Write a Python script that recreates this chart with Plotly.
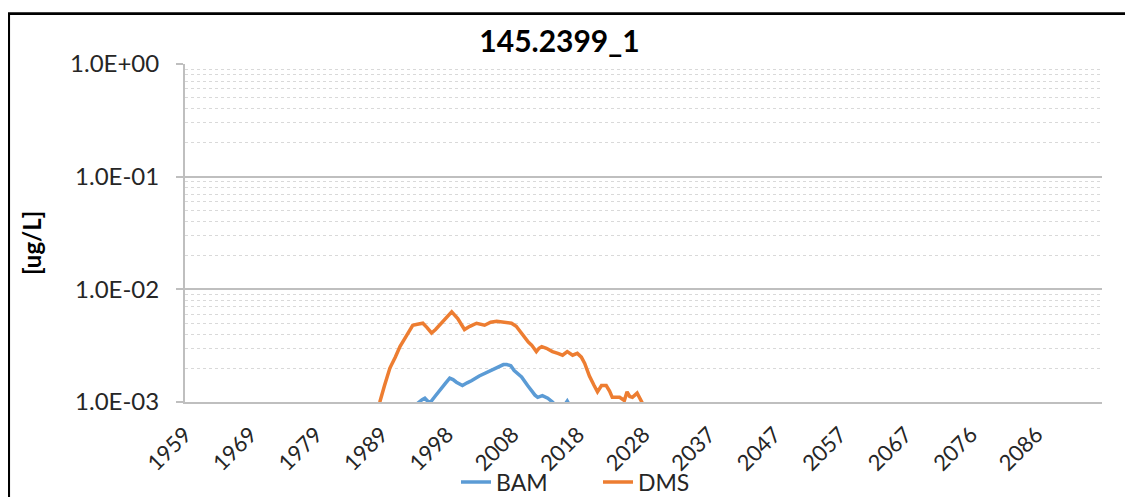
import plotly.graph_objects as go

# ---- data ----
dms_years = [1988.0, 1988.9, 1989.6, 1990.4, 1991.2, 1991.9, 1992.9, 1993.8, 1994.5, 1995.3,
             1995.9, 1996.6, 1997.2, 1997.8, 1998.7, 1999.6, 2000.5, 2001.0, 2001.5, 2002.3,
             2003.3, 2004.5, 2005.4, 2006.3, 2007.8, 2008.5, 2009.2, 2009.8, 2010.4, 2011.0,
             2011.5, 2012.2, 2012.6, 2013.0, 2013.7, 2014.6, 2015.4, 2016.1, 2016.8, 2017.6,
             2018.3, 2018.9, 2019.4, 2020.1, 2020.8, 2021.3, 2021.9, 2022.6, 2023.1, 2023.5,
             2024.6, 2025.3, 2025.7, 2026.1, 2026.5, 2027.2, 2027.9, 2028.6]
dms_values = [0.0007, 0.0010, 0.0014, 0.0020, 0.0025, 0.0031, 0.0039, 0.0048, 0.0049, 0.0050,
              0.0046, 0.0041, 0.0044, 0.0048, 0.0055, 0.0063, 0.0055, 0.0049, 0.0044, 0.0047,
              0.0050, 0.0048, 0.0051, 0.0052, 0.0051, 0.0050, 0.0047, 0.0042, 0.0038, 0.0034,
              0.0032, 0.0028, 0.0030, 0.0031, 0.0030, 0.0028, 0.0027, 0.0026, 0.0028, 0.0026,
              0.0027, 0.0025, 0.0022, 0.0017, 0.0014, 0.00123, 0.0014, 0.0014, 0.00125, 0.0011,
              0.0011, 0.00103, 0.00123, 0.00112, 0.0011, 0.0012, 0.0010, 0.0008]

bam_years = [1993.8, 1994.6, 1995.2, 1995.6, 1996.0, 1996.4, 1997.1, 1997.8, 1998.6, 1999.3,
             1999.8, 2000.3, 2001.2, 2001.9, 2002.6, 2003.7, 2004.4, 2005.2, 2006.0, 2006.7,
             2007.3, 2007.8, 2008.4, 2008.9, 2010.0, 2010.9, 2011.6, 2012.0, 2012.4, 2013.1,
             2013.9, 2014.6, 2015.3, 2016.2, 2016.8, 2017.3]
bam_values = [0.0008, 0.00098, 0.00105, 0.00108, 0.00102, 0.00099, 0.00112, 0.00128, 0.00145, 0.00163,
              0.00158, 0.0015, 0.0014, 0.00148, 0.00155, 0.0017, 0.00178, 0.0019, 0.0020, 0.0021,
              0.00215, 0.00215, 0.0021, 0.0019, 0.00167, 0.0014, 0.00123, 0.00115, 0.0011, 0.00114,
              0.00108, 0.0010, 0.0009, 0.0009, 0.00102, 0.0009]

x_tick_labels = ["1959", "1969", "1979", "1989", "1998", "2008", "2018", "2028",
                 "2037", "2047", "2057", "2067", "2076", "2086"]
y_tick_values = [1.0, 0.1, 0.01, 0.001]
y_tick_labels = ["1.0E+00", "1.0E-01", "1.0E-02", "1.0E-03"]

title_text = "145.2399_1"
y_title = "[ug/L]"

# category-label spacing of the source axis (years between labels)
x_start = 1959.9
x_step = 9.75
x_tickvals = [x_start + i * x_step for i in range(len(x_tick_labels))]
x_end = x_start + (len(x_tick_labels)) * x_step

minor_vals = [m * 10.0 ** e for e in range(-3, 0) for m in range(2, 10)]

FONT = "Lato"
TXT = "#262626"
GRID = "#BFBFBF"

# page has an 8px body margin; figure fills the rest of the 1133x497 window
W, H = 1125, 489
L, R, T, B = 177, 31, 56, 95
pw, ph = W - L - R, H - T - B

fig = go.Figure()
fig.add_trace(go.Scatter(x=bam_years, y=bam_values, mode="lines", name="BAM",
                         line=dict(color="#5B9BD5", width=3.5)))
fig.add_trace(go.Scatter(x=dms_years, y=dms_values, mode="lines", name="DMS",
                         line=dict(color="#ED7D31", width=3.5)))

fig.update_layout(
    width=W, height=H,
    margin=dict(l=L, r=R, t=T, b=B),
    paper_bgcolor="white", plot_bgcolor="white",
    font=dict(family=FONT, color=TXT, size=22),
    title=dict(text="<b>" + title_text + "</b>", x=551.5 / W, xref="container", xanchor="center",
               y=1 - 33 / H, yref="container", yanchor="middle",
               font=dict(family=FONT, size=30, color="#000000")),
    showlegend=True,
    legend=dict(orientation="h", xref="container", yref="container",
                x=448 / W, xanchor="left", y=1 - 474 / H, yanchor="middle",
                font=dict(family=FONT, size=23, color=TXT),
                bgcolor="rgba(0,0,0,0)", entrywidth=97, entrywidthmode="pixels"),
    xaxis=dict(range=[x_start, x_end], tickmode="array", tickvals=x_tickvals,
               ticktext=x_tick_labels, tickangle=-45, showgrid=False, zeroline=False,
               showline=True, linecolor=GRID, linewidth=2, ticks="", ticklabelstandoff=9,
               tickfont=dict(family=FONT, size=22, color=TXT), automargin=False),
    yaxis=dict(type="log", range=[-3, 0], tickmode="array", tickvals=y_tick_values,
               ticktext=y_tick_labels, showgrid=True, gridcolor=GRID, gridwidth=2,
               showline=True, linecolor=GRID, linewidth=2, ticks="outside",
               ticklen=7, tickwidth=2, tickcolor=GRID, ticklabelstandoff=12,
               tickfont=dict(family=FONT, size=24, color=TXT), automargin=False,
               zeroline=False,
               minor=dict(tickmode="array", tickvals=minor_vals, showgrid=True,
                          gridcolor="#D9D9D9", gridwidth=1, griddash="dot", ticks="")),
    annotations=[dict(text="<b>" + y_title + "</b>", textangle=-90, xref="paper", yref="paper",
                      x=(24 - L) / pw, y=(H - B - 235) / ph, xanchor="center", yanchor="middle",
                      showarrow=False, font=dict(family=FONT, size=24, color="#000000"))],
    shapes=[dict(type="rect", xref="paper", yref="paper",
                 x0=(0.7 - L) / pw, x1=1.2, y0=-0.6, y1=1 + (T - 5.7) / ph,
                 line=dict(color="black", width=2.7), fillcolor="rgba(0,0,0,0)", layer="above")],
)

fig.write_html("out.html")
